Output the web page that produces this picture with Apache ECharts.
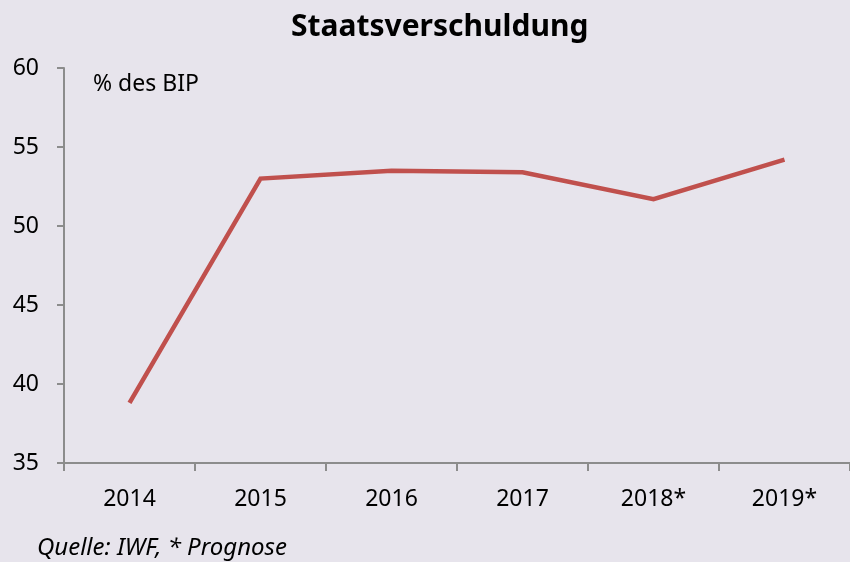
<!DOCTYPE html>
<html><head><meta charset="utf-8">
<script src="https://cdn.jsdelivr.net/npm/echarts@6/dist/echarts.min.js"></script>
<style>html,body{margin:0;padding:0;background:#E7E4EC;}#c{width:850px;height:562px;}</style>
</head><body><div id="c"></div>
<script>
const categories = ['2014','2015','2016','2017','2018*','2019*'];
const debt = [38.8, 53.0, 53.5, 53.4, 51.7, 54.2];
const yTicks = [35, 40, 45, 50, 55, 60];
const titleText = 'Staatsverschuldung';
const unitText = '% des BIP';
const sourceText = 'Quelle: IWF, * Prognose';

const FONT = '"Noto Sans", "Open Sans", sans-serif';
const chart = echarts.init(document.getElementById('c'), null, {renderer:'canvas'});
chart.setOption({
  backgroundColor: '#E7E4EC',
  animation: false,
  title: {
    text: titleText, left: 291, top: 12, padding: 0,
    textStyle: {fontFamily: FONT, fontWeight: 'bold', fontSize: 30, color: '#000'}
  },
  grid: {left: 64, right: 0, top: 68, bottom: 99, containLabel: false},
  xAxis: {
    type: 'category', data: categories, boundaryGap: true,
    axisLine: {lineStyle: {color: '#8C8C8C', width: 2}},
    axisTick: {show: true, length: 8, lineStyle: {color: '#8C8C8C', width: 2}},
    axisLabel: {fontFamily: FONT, fontSize: 23, color: '#000', margin: 25}
  },
  yAxis: {
    type: 'value', min: yTicks[0], max: yTicks[yTicks.length-1], interval: 5,
    splitLine: {show: false},
    axisLine: {show: true, lineStyle: {color: '#8C8C8C', width: 2}},
    axisTick: {show: true, length: 7, lineStyle: {color: '#8C8C8C', width: 2}},
    axisLabel: {fontFamily: FONT, fontSize: 23, color: '#000', margin: 25}
  },
  graphic: [
    {type: 'text', left: 93, top: 73, style: {text: unitText, fontFamily: FONT, fontSize: 23, fill: '#000'}},
    {type: 'text', left: 37, top: 536, style: {text: sourceText, fontFamily: FONT, fontSize: 24, fontStyle: 'italic', fill: '#000'}}
  ],
  series: [{
    type: 'line', data: debt, symbol: 'none',
    lineStyle: {color: '#C0504D', width: 4.5, join: 'miter'}
  }]
});
</script></body></html>
